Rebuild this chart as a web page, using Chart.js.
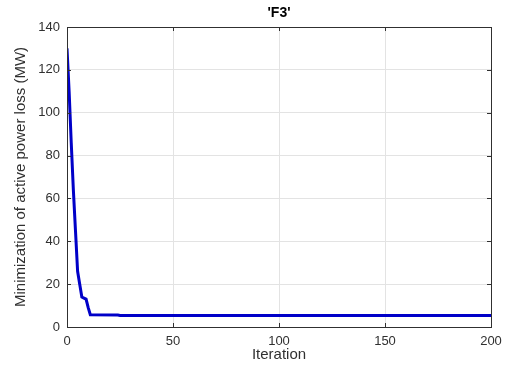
<!DOCTYPE html>
<html>
<head>
<meta charset="utf-8">
<script src="https://cdn.jsdelivr.net/npm/chart.js@4"></script>
<style>
  html, body { margin: 0; padding: 0; background: #ffffff; }
  #wrap { width: 512px; height: 365px; position: relative; }
</style>
</head>
<body>
<div id="wrap"><canvas id="c" width="512" height="365"></canvas></div>
<script>
// ---- data ----
const chartTitle = "'F3'";
const xLabel = "Iteration";
const yLabel = "Minimization of active power loss (MW)";
const iterations = [0, 1, 2, 3, 4, 5, 6, 7, 8, 9, 10, 11, 24, 25, 200];
const powerLoss  = [130, 110, 86, 64, 45, 26, 20, 14, 13.5, 13, 9, 5.7, 5.6, 5.35, 5.35];
const xTicks = [0, 50, 100, 150, 200];
const yTicks = [0, 20, 40, 60, 80, 100, 120, 140];

const axisColor = '#303030';
const gridColor = '#e3e3e3';
const FONT = "'Liberation Sans', Arial, Helvetica, sans-serif";

// box, inward ticks and title centred over the plot area (MATLAB style)
const boxPlugin = {
  id: 'boxTicks',
  afterDraw(chart) {
    const {ctx, chartArea: a, scales} = chart;
    ctx.save();
    ctx.strokeStyle = axisColor;
    ctx.lineWidth = 1;
    ctx.strokeRect(Math.round(a.left) + 0.5, Math.round(a.top) + 0.5,
                   Math.round(a.right - a.left), Math.round(a.bottom - a.top));
    const L = 4;
    ctx.beginPath();
    xTicks.forEach(v => {
      const px = Math.round(scales.x.getPixelForValue(v)) + 0.5;
      ctx.moveTo(px, a.bottom); ctx.lineTo(px, a.bottom - L);
      ctx.moveTo(px, a.top); ctx.lineTo(px, a.top + L);
    });
    yTicks.forEach(v => {
      const py = Math.round(scales.y.getPixelForValue(v)) + 0.5;
      ctx.moveTo(a.left, py); ctx.lineTo(a.left + L, py);
      ctx.moveTo(a.right, py); ctx.lineTo(a.right - L, py);
    });
    ctx.stroke();
    ctx.fillStyle = '#000000';
    ctx.font = "bold 14px " + FONT;
    ctx.textAlign = 'center';
    ctx.textBaseline = 'middle';
    ctx.fillText(chartTitle, (a.left + a.right) / 2, 13);
    ctx.restore();
  }
};

new Chart(document.getElementById('c'), {
  type: 'line',
  data: {
    datasets: [{
      data: iterations.map((x, i) => ({x: x, y: powerLoss[i]})),
      borderColor: '#0000c8',
      borderWidth: 3,
      pointRadius: 0,
      tension: 0,
      fill: false
    }]
  },
  options: {
    responsive: false,
    animation: false,
    devicePixelRatio: 1,
    layout: { padding: { left: 0, right: 21, top: 27, bottom: 0 } },
    plugins: {
      legend: { display: false },
      tooltip: { enabled: false },
      title: { display: false }
    },
    scales: {
      x: {
        type: 'linear',
        min: 0, max: 200,
        afterFit(s) { s.height = 38; },
        afterBuildTicks(s) { s.ticks = xTicks.map(v => ({value: v})); },
        grid: { color: gridColor, drawTicks: false },
        border: { display: false },
        ticks: { color: axisColor, padding: 7, maxRotation: 0,
                 font: { family: FONT, size: 13 } },
        title: { display: true, text: xLabel, color: axisColor,
                 font: { family: FONT, size: 15 }, padding: { top: 1, bottom: 1 } }
      },
      y: {
        type: 'linear',
        min: 0, max: 140,
        afterFit(s) { s.width = 67; },
        afterBuildTicks(s) { s.ticks = yTicks.map(v => ({value: v})); },
        grid: { color: gridColor, drawTicks: false },
        border: { display: false },
        ticks: { color: axisColor, padding: 7,
                 font: { family: FONT, size: 13 } },
        title: { display: true, text: yLabel, color: axisColor,
                 font: { family: FONT, size: 15 }, padding: { top: 12, bottom: 0 } }
      }
    }
  },
  plugins: [boxPlugin]
});
</script>
</body>
</html>
